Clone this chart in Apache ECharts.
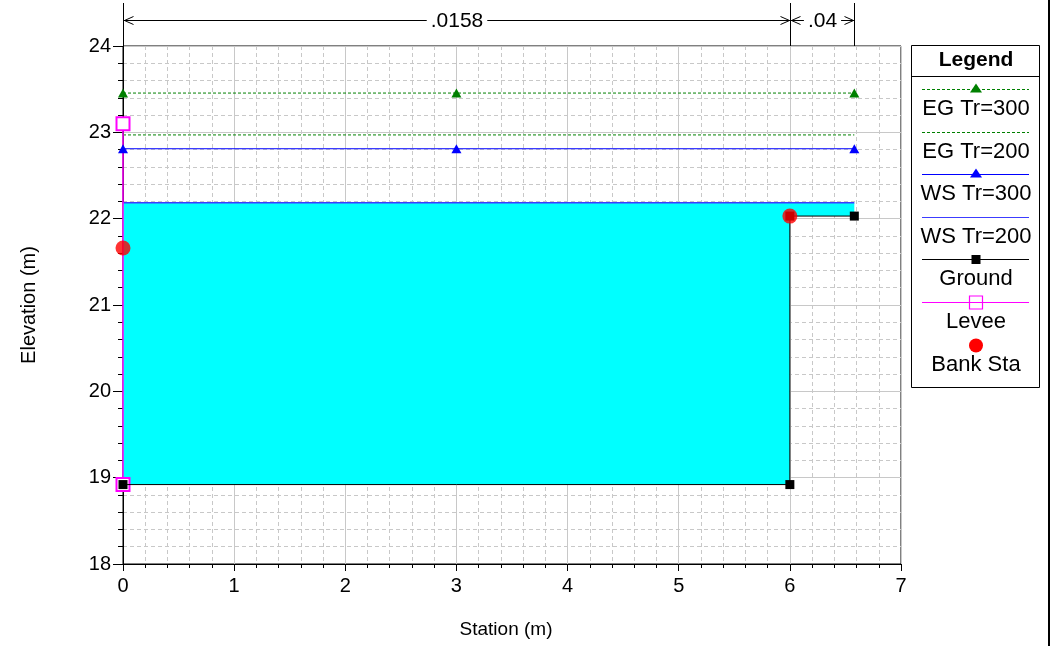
<!DOCTYPE html>
<html><head><meta charset="utf-8">
<script src="https://cdn.jsdelivr.net/npm/echarts@6/dist/echarts.min.js"></script>
<style>html,body{margin:0;padding:0;background:#fff}#c{width:1053px;height:646px}</style>
</head><body><div id="c"></div>
<script>
// ---- data ----
const groundPts = [[0,18.92],[6,18.92],[6,22.03],[6.58,22.03]];
const leveePts = [[0,23.1],[0,18.92]];
const bankSta = [[0,21.66],[6,22.03]];
const egTr300 = [[0,23.455],[3,23.455],[6.58,23.455]];
const egTr200 = [[0,22.97],[6.58,22.97]];
const wsTr300 = [[0,22.81],[3,22.81],[6.58,22.81]];
const wsTr200 = [[0,22.185],[6.58,22.185]];
const nBreaks = [0,6,6.58];
const nValues = ['.0158','.04'];
const legendNames = ['EG Tr=300','EG Tr=200','WS Tr=300','WS Tr=200','Ground','Levee','Bank Sta'];

const FONT = '"Liberation Sans", Arial, sans-serif';
const GREEN = '#008000', BLUE = '#0000ff', BLUE2 = '#3c3cff', MAG = '#ff00ff', RED = '#ff0000';
const waterPoly = groundPts.concat([[wsTr200[1][0], wsTr200[1][1]], [wsTr200[0][0], wsTr200[0][1]]]);

const chart = echarts.init(document.getElementById('c'), null, {renderer:'canvas'});

// legend drawn as graphic
const legStyles = [
  {c:GREEN, dash:[3,2], sym:'tri'},
  {c:GREEN, dash:[3,2], sym:null},
  {c:BLUE, dash:null, sym:'tri'},
  {c:BLUE2, dash:null, sym:null},
  {c:'#000', dash:null, sym:'rect'},
  {c:MAG, dash:null, sym:'erect'},
  {c:RED, dash:null, sym:'circle', noLine:true}
];
const legChildren = [
  {type:'rect', shape:{x:0.5,y:0.5,width:128,height:342}, style:{fill:'#fff', stroke:'#000', lineWidth:1}},
  {type:'line', shape:{x1:0.5,y1:31.5,x2:128.5,y2:31.5}, style:{stroke:'#000', lineWidth:1}},
  {type:'text', style:{text:'Legend', x:65, y:15, align:'center', verticalAlign:'middle', font:'bold 21px '+FONT, fill:'#000'}}
];
legendNames.forEach((n,i)=>{
  const s = legStyles[i];
  const ly = Math.round(44 + i*42.6) + 0.5;
  const cx = 65;
  if(!s.noLine) legChildren.push({type:'line', shape:{x1:11,y1:ly,x2:118,y2:ly}, style:{stroke:s.c, lineWidth:1, lineDash:s.dash||null}});
  if(s.sym==='tri') legChildren.push({type:'polygon', shape:{points:[[cx,ly-6],[cx-6,ly+3],[cx+6,ly+3]]}, style:{fill:s.c}});
  if(s.sym==='rect') legChildren.push({type:'rect', shape:{x:cx-4.5,y:ly-4.5,width:9,height:9}, style:{fill:'#000'}});
  if(s.sym==='erect') legChildren.push({type:'rect', shape:{x:cx-6.5,y:ly-6.5,width:13,height:13}, style:{fill:null, stroke:MAG, lineWidth:1.2}});
  if(s.sym==='circle') legChildren.push({type:'circle', shape:{cx:cx,cy:ly,r:7}, style:{fill:RED}});
  legChildren.push({type:'text', style:{text:n, x:cx, y:ly+19, align:'center', verticalAlign:'middle', font:'22px '+FONT, fill:'#000'}});
});

const option = {
  animation:false,
  backgroundColor:'#fff',
  grid:{left:123, right:152, top:46, bottom:82, show:true, borderColor:'#000', borderWidth:1, backgroundColor:'#fff'},
  xAxis:{
    type:'value', min:0, max:7, interval:1,
    name:'Station (m)', nameLocation:'middle', nameGap:56,
    nameTextStyle:{fontFamily:FONT, fontSize:19, color:'#000', padding:[0,12,0,0]},
    axisLine:{show:true, onZero:false, lineStyle:{color:'#000', width:1}},
    axisTick:{show:true, length:7, lineStyle:{color:'#000'}},
    minorTick:{show:true, splitNumber:5, length:4, lineStyle:{color:'#000'}},
    axisLabel:{fontFamily:FONT, fontSize:20, color:'#000', margin:12},
    splitLine:{show:true, lineStyle:{color:'#c8c8c8', width:1}},
    minorSplitLine:{show:true, lineStyle:{color:'#c8c8c8', width:1, type:[4,3]}}
  },
  yAxis:{
    type:'value', min:18, max:24, interval:1,
    name:'Elevation (m)', nameLocation:'middle', nameGap:84, nameRotate:90,
    nameTextStyle:{fontFamily:FONT, fontSize:20, color:'#000'},
    axisLine:{show:true, onZero:false, lineStyle:{color:'#000', width:1}},
    axisTick:{show:true, length:10, lineStyle:{color:'#000'}},
    minorTick:{show:true, splitNumber:5, length:5, lineStyle:{color:'#000'}},
    axisLabel:{fontFamily:FONT, fontSize:20, color:'#000', margin:12},
    splitLine:{show:true, lineStyle:{color:'#c8c8c8', width:1}},
    minorSplitLine:{show:true, lineStyle:{color:'#c8c8c8', width:1, type:[4,3]}}
  },
  graphic:[
    {type:'group', x:911, y:45, children:legChildren},
    {type:'rect', shape:{x:1048, y:0, width:2, height:646}, style:{fill:'#000'}}
  ],
  series:[
    {type:'custom', name:'water', z:1, silent:true, data:[[0,0]],
     renderItem:(params, api)=>({type:'polygon', shape:{points:waterPoly.map(p=>api.coord(p))}, style:{fill:'#00ffff'}})},
    {type:'custom', name:'nvals', z:5, silent:true, clip:false,
     data:nValues.map((v,i)=>[nBreaks[i], nBreaks[i+1]]),
     encode:{x:[0,1]},
     renderItem:(params, api)=>{
       const i = params.dataIndex;
       const xa = Math.round(api.coord([api.value(0), 24])[0]) + 0.5;
       const xb = Math.round(api.coord([api.value(1), 24])[0]) + 0.5;
       const top = params.coordSys.y;
       const ly = top - 25.5;
       const st = {stroke:'#000', lineWidth:1, fill:null};
       return {type:'group', children:[
         {type:'line', shape:{x1:xa,y1:ly,x2:xb,y2:ly}, style:st},
         {type:'line', shape:{x1:xa,y1:top-43,x2:xa,y2:top}, style:st},
         {type:'line', shape:{x1:xb,y1:top-43,x2:xb,y2:top}, style:st},
         {type:'polyline', shape:{points:[[xa+10,ly-4],[xa+1,ly],[xa+10,ly+4]]}, style:st},
         {type:'polyline', shape:{points:[[xb-10,ly-4],[xb-1,ly],[xb-10,ly+4]]}, style:st},
         {type:'text', style:{text:nValues[i], x:(xa+xb)/2, y:ly+1, align:'center', verticalAlign:'middle', font:'21px '+FONT, fill:'#000', backgroundColor:'#fff', padding:[0,4]}}
       ]};
     }},
    {type:'line', name:'EG Tr=300', data:egTr300, z:3, symbol:'triangle', symbolSize:[10,9], showSymbol:true,
     lineStyle:{color:GREEN, width:1, type:[3,2]}, itemStyle:{color:GREEN}},
    {type:'line', name:'EG Tr=200', data:egTr200, z:3, symbol:'none',
     lineStyle:{color:GREEN, width:1, type:[3,2]}},
    {type:'line', name:'WS Tr=300', data:wsTr300, z:3, symbol:'triangle', symbolSize:[10,9], showSymbol:true,
     lineStyle:{color:BLUE, width:1}, itemStyle:{color:BLUE}},
    {type:'line', name:'WS Tr=200', data:wsTr200, z:3, symbol:'none',
     lineStyle:{color:BLUE2, width:1.5}},
    {type:'line', name:'Levee', data:leveePts, z:3, symbol:'emptyRect', symbolSize:13, showSymbol:true,
     lineStyle:{color:MAG, width:1.5}, itemStyle:{color:MAG, borderColor:MAG, borderWidth:1.2}},
    {type:'line', name:'Ground', data:groundPts, z:4, symbol:'rect', symbolSize:9, showSymbol:true,
     lineStyle:{color:'#000', width:1}, itemStyle:{color:'#000'}},
    {type:'scatter', name:'Bank Sta', data:bankSta, z:6, symbol:'circle', symbolSize:15,
     itemStyle:{color:RED}}
  ]
};
chart.setOption(option);
</script>
</body></html>
